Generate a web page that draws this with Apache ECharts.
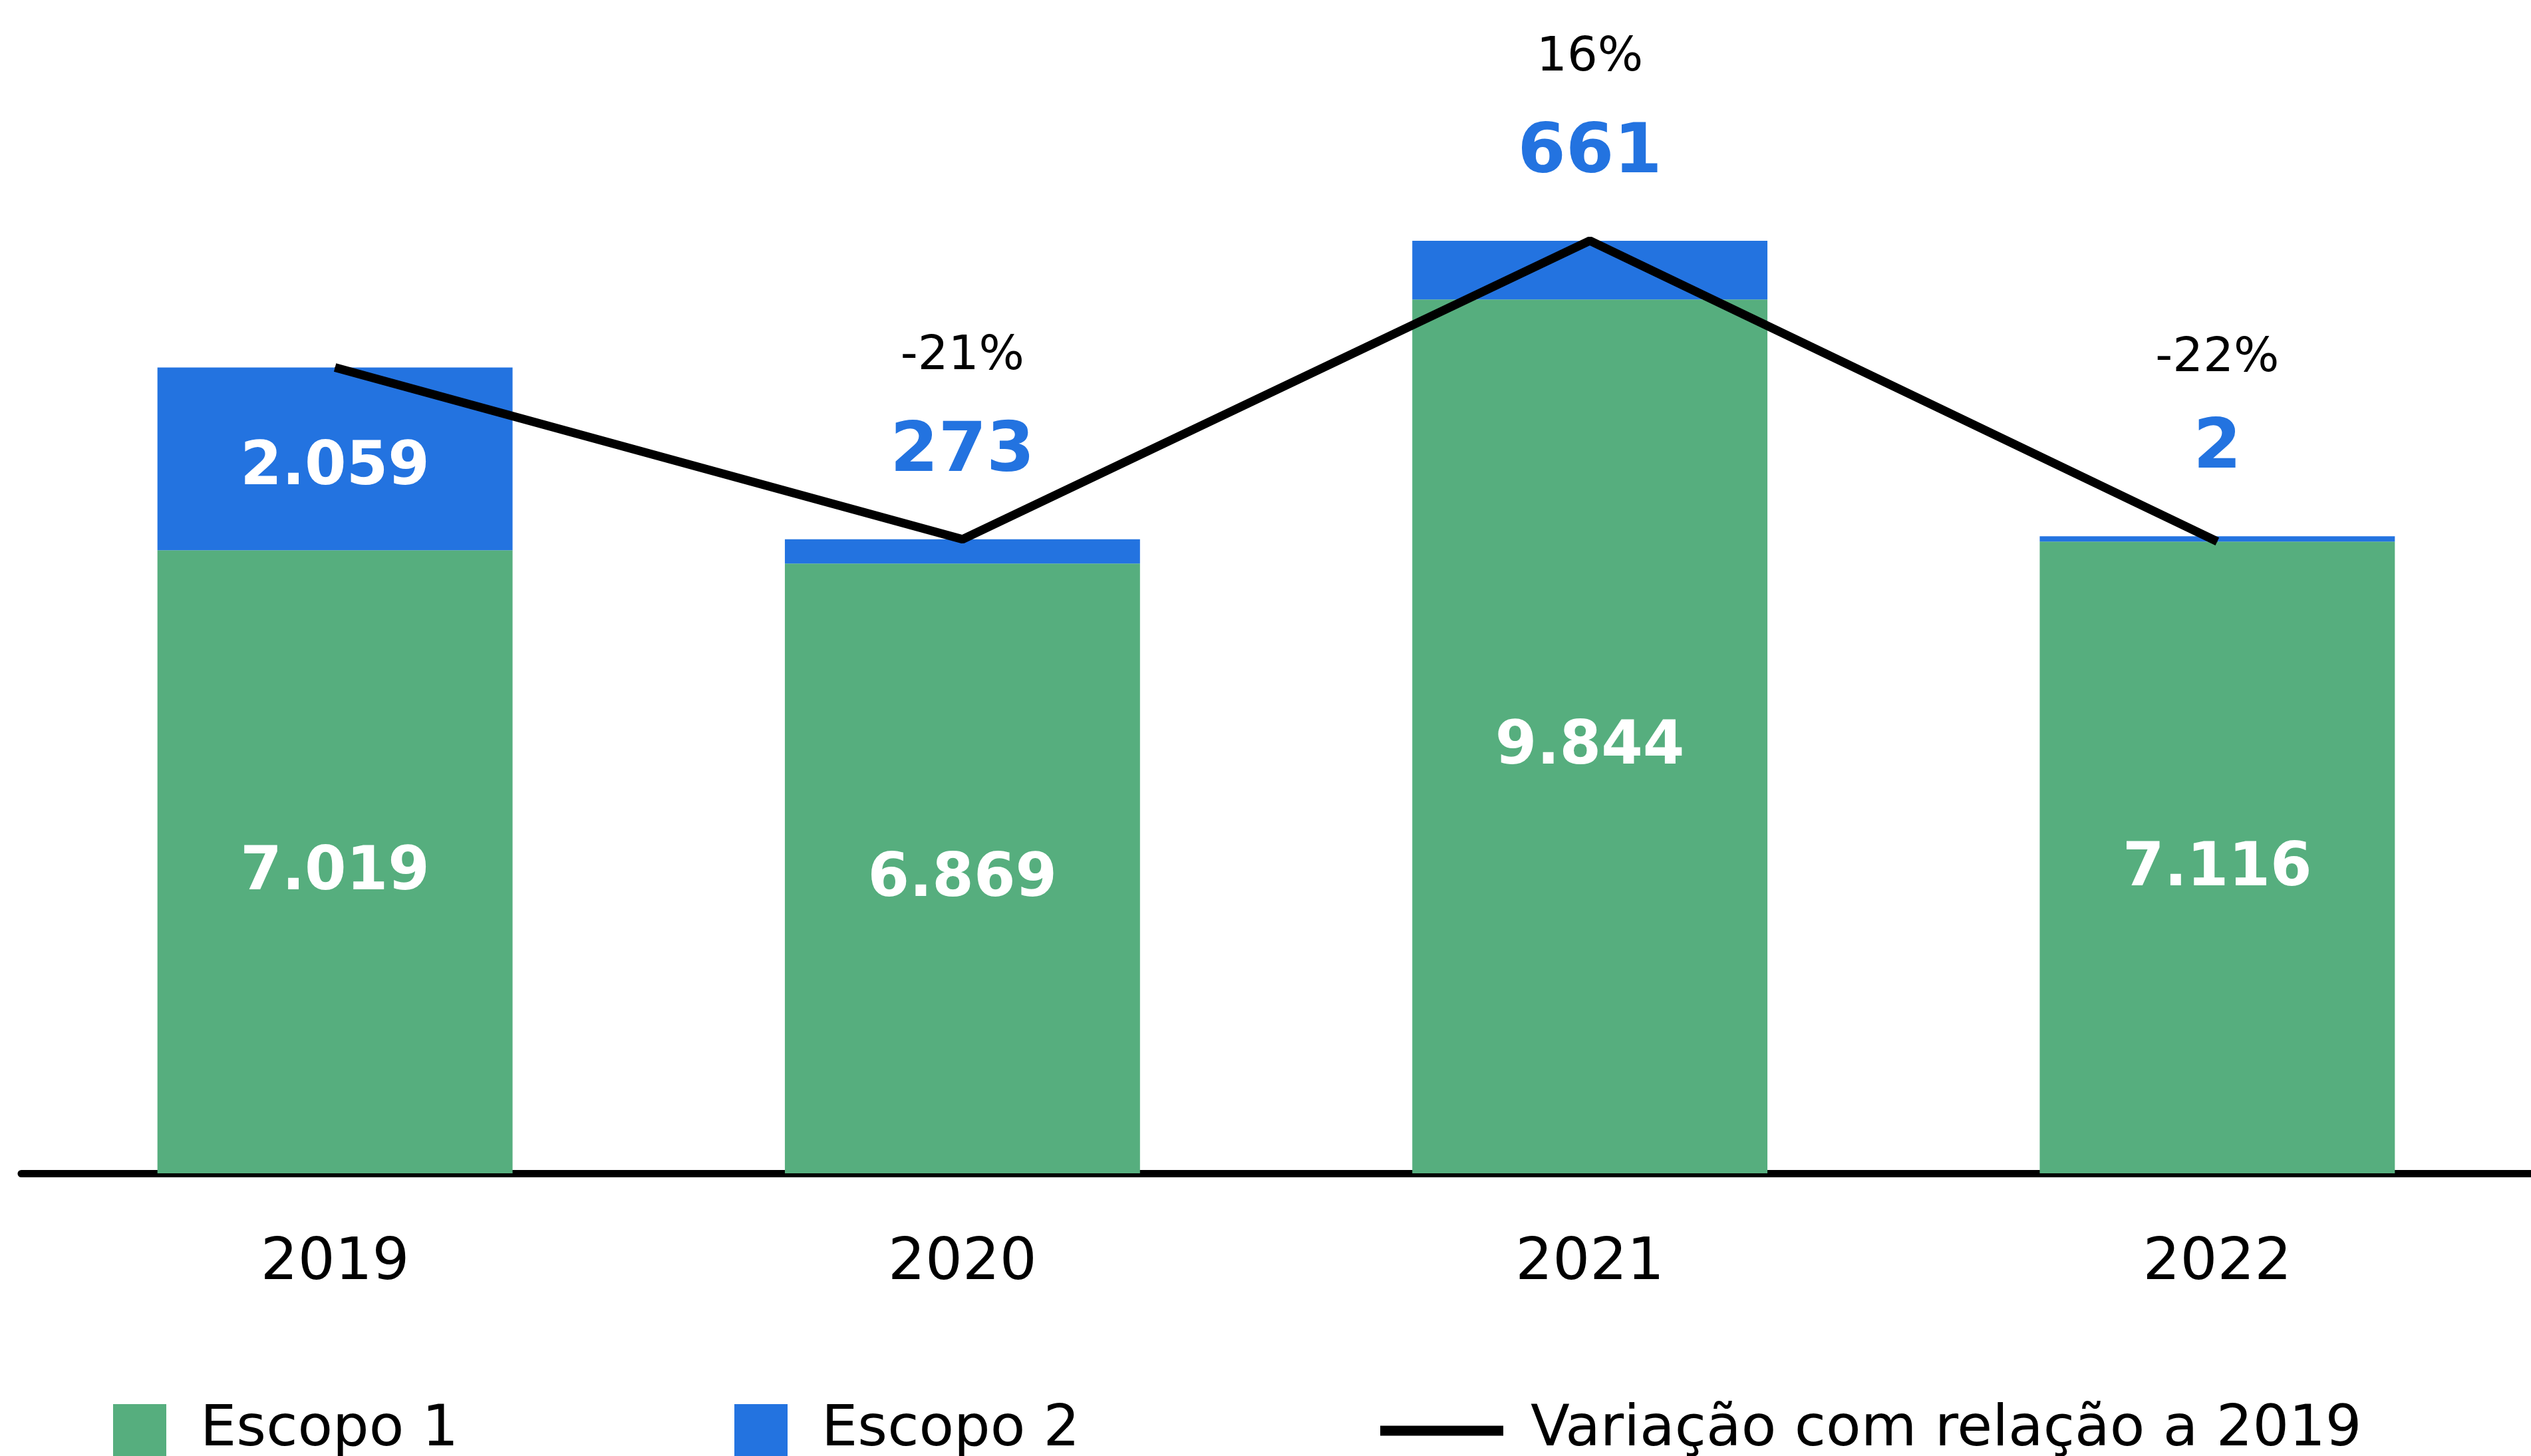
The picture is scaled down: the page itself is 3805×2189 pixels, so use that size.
<!DOCTYPE html>
<html>
<head>
<meta charset="utf-8">
<script src="https://cdn.jsdelivr.net/npm/echarts@6/dist/echarts.min.js"></script>
<style>
  html, body { margin: 0; padding: 0; background: #fff; }
  #chart { width: 3805px; height: 2189px; }
</style>
</head>
<body>
<div id="chart"></div>
<script>
// dados
const anos = ['2019', '2020', '2021', '2022'];
const escopo1 = [7019, 6869, 9844, 7116];
const escopo2 = [2059, 273, 661, 2];
// variação do total com relação a 2019 (%)
const variacao = [null, -21, 16, -22];

const verde = '#56AE7E';
const azul = '#2373E0';
const fonte = 'DejaVu Sans';

// a linha passa pelo topo de cada barra (total)
const totais = escopo1.map((v, i) => v + escopo2[i]);

function fmt(v) {
  return v.toLocaleString('pt-BR');
}

const chart = echarts.init(document.getElementById('chart'));

const option = {
  animation: false,
  grid: {
    left: 32,
    right: 0,
    top: 29,
    bottom: 425
  },
  legend: [{
    left: 165,
    top: 2103,
    data: [{ name: 'Escopo 1', icon: 'rect' }],
    itemWidth: 80,
    itemHeight: 80,
    textStyle: { fontFamily: fonte, fontSize: 86, color: '#000', padding: [0, 0, 0, 46] }
  }, {
    left: 1099,
    top: 2103,
    data: [{ name: 'Escopo 2', icon: 'rect' }],
    itemWidth: 80,
    itemHeight: 80,
    textStyle: { fontFamily: fonte, fontSize: 86, color: '#000', padding: [0, 0, 0, 46] }
  }, {
    left: 2070,
    top: 2103,
    data: [{ name: 'Variação com relação a 2019', icon: 'rect' }],
    itemWidth: 185,
    itemHeight: 15,
    itemStyle: { color: '#000' },
    textStyle: { fontFamily: fonte, fontSize: 86, color: '#000', padding: [0, 0, 0, 36] }
  }],
  xAxis: {
    type: 'category',
    data: anos,
    axisLine: {
      show: true,
      lineStyle: { color: '#000', width: 11 }
    },
    axisTick: { show: false },
    axisLabel: {
      fontFamily: fonte,
      fontSize: 88,
      color: '#000',
      margin: 92
    }
  },
  yAxis: {
    type: 'value',
    min: 0,
    max: 13000,
    show: false,
    splitLine: { show: false }
  },
  series: [{
    name: 'Escopo 1',
    type: 'bar',
    stack: 'total',
    barWidth: '56.6%',
    itemStyle: { color: verde },
    label: {
      show: true,
      position: 'inside',
      offset: [0, 18],
      fontFamily: fonte,
      fontWeight: 'bold',
      fontSize: 90,
      color: '#fff',
      formatter: p => fmt(p.value)
    },
    data: escopo1
  }, {
    name: 'Escopo 2',
    type: 'bar',
    stack: 'total',
    barMinHeight: 8,
    itemStyle: { color: azul },
    label: {
      show: true,
      position: 'top',
      distance: 78,
      fontFamily: fonte,
      fontWeight: 'bold',
      fontSize: 104,
      color: azul,
      formatter: p => fmt(p.value)
    },
    data: escopo2.map((v, i) => {
      // 2019: rótulo branco dentro da barra azul
      if (i === 0) {
        return {
          value: v,
          label: { position: 'inside', color: '#fff', fontSize: 90, offset: [0, 15], distance: 0 }
        };
      }
      return v;
    })
  }, {
    name: 'Variação com relação a 2019',
    type: 'line',
    z: 5,
    symbol: 'circle',
    symbolSize: 1,
    itemStyle: { color: '#000' },
    lineStyle: { color: '#000', width: 13 },
    label: {
      show: true,
      position: 'top',
      distance: 238,
      fontFamily: fonte,
      fontSize: 72,
      color: '#000',
      formatter: p => variacao[p.dataIndex] == null ? '' : variacao[p.dataIndex] + '%'
    },
    data: totais
  }]
};

chart.setOption(option);
</script>
</body>
</html>
